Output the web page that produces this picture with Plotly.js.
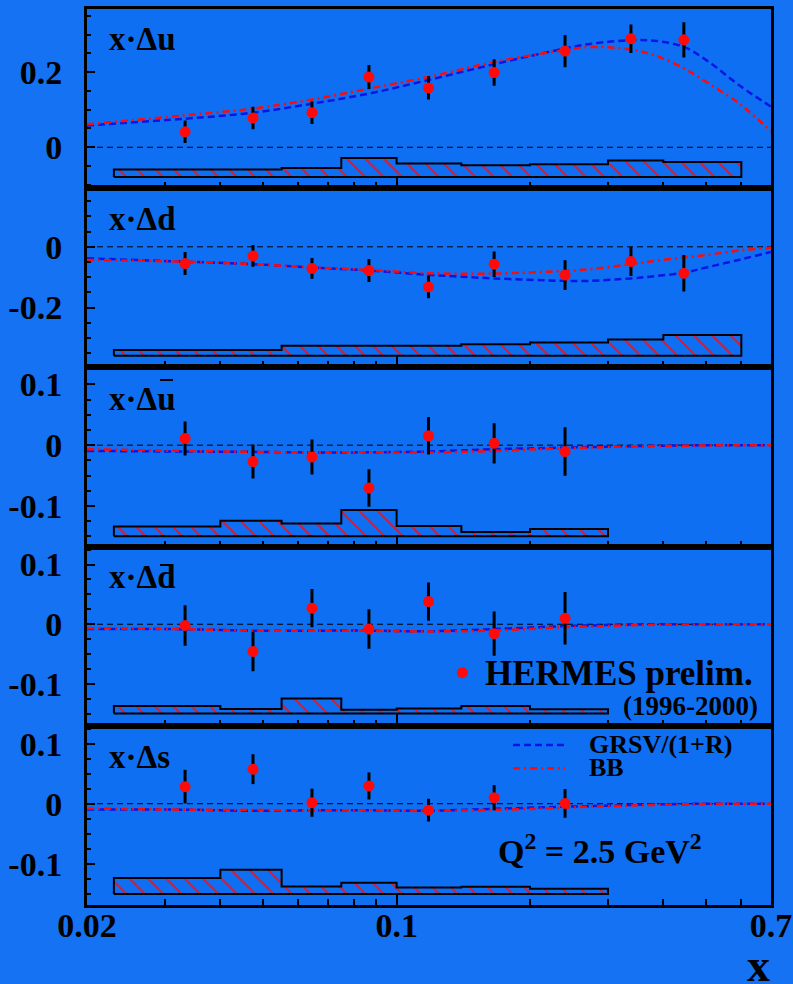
<!DOCTYPE html>
<html>
<head>
<meta charset="utf-8">
<script src="https://cdn.plot.ly/plotly-3.0.1.min.js"></script>
<style>
  html, body { margin: 0; padding: 0; background: #1572f2; }
  #plot { width: 793px; height: 984px; }
</style>
</head>
<body>
<div id="plot"></div>
<script>
// ---- HERMES x-bins (mean x of each bin) ----
const xPoints = [0.0333, 0.0474, 0.0644, 0.0866, 0.118, 0.166, 0.240, 0.338, 0.445];
// bin edges used for the systematic-error bands
const binEdges = [0.023, 0.04, 0.055, 0.075, 0.1, 0.14, 0.2, 0.3, 0.4, 0.6];
// x grid on which the parametrisations are tabulated
const xCurve = [0.02, 0.0333, 0.0474, 0.0644, 0.0866, 0.118, 0.166, 0.24, 0.273, 0.338, 0.386, 0.445, 0.5, 0.6, 0.7];

// ---- x·Δu ----
const uVal = [0.041, 0.078, 0.092, 0.187, 0.158, 0.199, 0.256, 0.289, 0.286];
const uErr = [0.030, 0.030, 0.030, 0.032, 0.031, 0.035, 0.043, 0.038, 0.047];
const uSysTop = [-0.0595, -0.0595, -0.055, -0.0285, -0.0435, -0.048, -0.045, -0.0355, -0.039];
const uSysBase = -0.079;
const uGRSV = [0.058, 0.076, 0.092, 0.116, 0.143, 0.179, 0.221, 0.263, 0.275, 0.285, 0.283, 0.267, 0.232, 0.161, 0.108];
const uBB = [0.061, 0.085, 0.103, 0.127, 0.156, 0.187, 0.227, 0.259, 0.267, 0.260, 0.243, 0.210, 0.174, 0.112, 0.042];

// ---- x·Δd ----
const dVal = [-0.055, -0.030, -0.071, -0.078, -0.132, -0.057, -0.093, -0.048, -0.087];
const dErr = [0.038, 0.036, 0.034, 0.038, 0.037, 0.042, 0.049, 0.048, 0.060];
const dSysTop = [-0.34, -0.34, -0.326, -0.326, -0.326, -0.321, -0.315, -0.305, -0.29];
const dSysBase = -0.359;
const dGRSV = [-0.038, -0.049, -0.057, -0.068, -0.078, -0.092, -0.104, -0.112, -0.112, -0.104, -0.096, -0.085, -0.068, -0.041, -0.017];
const dBB = [-0.043, -0.049, -0.057, -0.068, -0.076, -0.087, -0.088, -0.079, -0.074, -0.057, -0.046, -0.035, -0.027, -0.011, -0.003];

// ---- x·Δū ----
const ubVal = [0.011, -0.027, -0.0195, -0.0705, 0.0155, 0.003, -0.0105];
const ubErr = [0.028, 0.028, 0.029, 0.031, 0.031, 0.033, 0.040];
const ubSysTop = [-0.134, -0.1245, -0.129, -0.1067, -0.133, -0.143, -0.138];
const ubSysBase = -0.150;
const ubGRSV = [-0.0095, -0.0105, -0.011, -0.012, -0.0117, -0.0105, -0.0067, -0.004, -0.003, -0.0017, -0.001, -0.0005, -0.0003, 0, 0];
const ubBB = [-0.0067, -0.0095, -0.011, -0.012, -0.0117, -0.012, -0.0095, -0.005, -0.004, -0.002, -0.0015, -0.001, -0.0005, 0, 0];

// ---- x·Δd̄ ----
const dbVal = [-0.002, -0.0455, 0.027, -0.008, 0.038, -0.0157, 0.010];
const dbErr = [0.034, 0.033, 0.032, 0.033, 0.032, 0.037, 0.044];
const dbSysTop = [-0.137, -0.142, -0.1245, -0.143, -0.141, -0.137, -0.1425];
const dbSysBase = -0.1495;
const dbGRSV = [-0.0078, -0.0083, -0.0107, -0.0107, -0.0107, -0.0117, -0.008, -0.003, -0.002, -0.0005, 0, 0, 0, 0, 0];
const dbBB = [-0.0065, -0.0083, -0.0107, -0.0107, -0.011, -0.012, -0.0105, -0.005, -0.004, -0.0015, -0.001, -0.0005, 0, 0, 0];

// ---- x·Δs ----
const sVal = [0.0285, 0.0577, 0.0017, 0.0296, -0.0107, 0.010, 0.0005];
const sErr = [0.028, 0.025, 0.0235, 0.0225, 0.019, 0.021, 0.024];
const sSysTop = [-0.124, -0.110, -0.138, -0.132, -0.140, -0.1385, -0.142];
const sSysBase = -0.1508;
const sGRSV = [-0.0096, -0.010, -0.0118, -0.011, -0.011, -0.0118, -0.0085, -0.005, -0.004, -0.002, -0.001, -0.0005, 0, 0, 0];
const sBB = [-0.008, -0.010, -0.0105, -0.011, -0.011, -0.012, -0.0103, -0.0067, -0.005, -0.003, -0.002, -0.001, -0.0005, 0, 0];

// axis labelling
const xTickVals = [0.02, 0.1, 0.7];
const xTickText = ['0.02', '0.1', '0.7'];
const xMinorVals = [0.03, 0.04, 0.05, 0.06, 0.07, 0.08, 0.09, 0.2, 0.3, 0.4, 0.5, 0.6];

const panels = [
  {label: 'x·Δu', val: uVal, err: uErr, top: uSysTop, base: uSysBase, grsv: uGRSV, bb: uBB,
   range: [-0.109, 0.368], ticks: [0, 0.2], tickText: ['0', '0.2'], minor: 0.05},
  {label: 'x·Δd', val: dVal, err: dErr, top: dSysTop, base: dSysBase, grsv: dGRSV, bb: dBB,
   range: [-0.397, 0.193], ticks: [-0.2, 0], tickText: ['-0.2', '0'], minor: 0.05},
  {label: 'x·Δu', val: ubVal, err: ubErr, top: ubSysTop, base: ubSysBase, grsv: ubGRSV, bb: ubBB,
   range: [-0.167, 0.128], ticks: [-0.1, 0, 0.1], tickText: ['-0.1', '0', '0.1'], minor: 0.025},
  {label: 'x·Δd', val: dbVal, err: dbErr, top: dbSysTop, base: dbSysBase, grsv: dbGRSV, bb: dbBB,
   range: [-0.170, 0.130], ticks: [-0.1, 0, 0.1], tickText: ['-0.1', '0', '0.1'], minor: 0.025},
  {label: 'x·Δs', val: sVal, err: sErr, top: sSysTop, base: sSysBase, grsv: sGRSV, bb: sBB,
   range: [-0.169, 0.130], ticks: [-0.1, 0, 0.1], tickText: ['-0.1', '0', '0.1'], minor: 0.025}
];

// ---- page geometry (pixels) ----
const W = 793, H = 984;
const M = {l: 87, r: 22, t: 9, b: 79};
const plotW = W - M.l - M.r, plotH = H - M.t - M.b;
const pxX = p => (p - M.l) / plotW;
const pxY = p => (H - M.b - p) / plotH;

const FONT = 'Liberation Serif, Times New Roman, serif';
const BG = '#0f6ff2';
const BLUE = '#0a14e6';
const RED = '#ff0a0a';

// closed outline of a stepped band between base and tops
function bandOutline(edges, tops, base) {
  const xs = [edges[0]], ys = [base];
  for (let i = 0; i < tops.length; i++) {
    xs.push(edges[i], edges[i + 1]);
    ys.push(tops[i], tops[i]);
  }
  xs.push(edges[tops.length], edges[0]);
  ys.push(base, base);
  return {xs, ys};
}

const traces = [];
const layout = {
  width: W, height: H,
  margin: {l: M.l, r: M.r, t: M.t, b: M.b},
  paper_bgcolor: '#1572f2',
  plot_bgcolor: BG,
  showlegend: false,
  font: {family: FONT, color: 'black', weight: 'bold'},
  shapes: [],
  annotations: []
};

panels.forEach((p, i) => {
  const k = i + 1;
  const xa = k === 1 ? 'x' : 'x' + k;
  const ya = k === 1 ? 'y' : 'y' + k;
  const n = p.val.length;
  const band = bandOutline(binEdges.slice(0, p.top.length + 1), p.top, p.base);

  traces.push({
    x: band.xs, y: band.ys, xaxis: xa, yaxis: ya, type: 'scatter', mode: 'lines',
    fill: 'toself', fillcolor: BG,
    fillpattern: {shape: '\\', fgcolor: RED, bgcolor: BG, size: 13, solidity: 0.12},
    line: {color: 'black', width: 2}, hoverinfo: 'skip'
  });
  traces.push({
    x: xCurve, y: p.grsv, xaxis: xa, yaxis: ya, type: 'scatter', mode: 'lines',
    line: {color: BLUE, width: 2.5, dash: '7px,4px', shape: 'spline'}
  });
  traces.push({
    x: xCurve, y: p.bb, xaxis: xa, yaxis: ya, type: 'scatter', mode: 'lines',
    line: {color: RED, width: 2.5, dash: '7px,4px,2px,4px', shape: 'spline'}
  });
  traces.push({
    x: xPoints.slice(0, n), y: p.val, xaxis: xa, yaxis: ya, type: 'scatter', mode: 'markers',
    marker: {color: RED, size: 11},
    error_y: {type: 'data', array: p.err, visible: true, color: 'black', thickness: 3, width: 0}
  });

  const yDomTop = 1 - i / 5, yDomBot = 1 - (i + 1) / 5;
  layout[k === 1 ? 'xaxis' : 'xaxis' + k] = {
    type: 'log', range: [Math.log10(0.02), Math.log10(0.7)], anchor: ya,
    domain: [0, 1], showgrid: false, zeroline: false,
    showline: true, linecolor: 'black', linewidth: 3, mirror: true,
    ticks: 'inside', ticklen: 12, tickwidth: 2, tickcolor: 'black',
    tickmode: 'array', tickvals: xTickVals, ticktext: xTickText,
    showticklabels: k === 5, ticklabelstandoff: -12,
    tickfont: {family: FONT, size: 34, weight: 'bold', color: 'black'},
    minor: {tickmode: 'array', tickvals: xMinorVals, ticks: 'inside', ticklen: 6, tickwidth: 2, tickcolor: 'black'}
  };
  layout[k === 1 ? 'yaxis' : 'yaxis' + k] = {
    range: p.range, anchor: xa, domain: [yDomBot, yDomTop],
    showgrid: false, zeroline: false,
    showline: true, linecolor: 'black', linewidth: 3, mirror: true,
    ticks: 'inside', ticklen: 8, tickwidth: 2, tickcolor: 'black',
    tickmode: 'array', tickvals: p.ticks, ticktext: p.tickText,
    ticklabelstandoff: 15,
    tickfont: {family: FONT, size: 34, weight: 'bold', color: 'black'},
    minor: {tickmode: 'linear', tick0: 0, dtick: p.minor, ticks: 'inside', ticklen: 4, tickwidth: 2, tickcolor: 'black'}
  };

  // dashed zero reference line
  layout.shapes.push({
    type: 'line', xref: xa + ' domain', yref: ya, x0: 0, x1: 1, y0: 0, y1: 0,
    line: {color: 'black', width: 1, dash: '6px,4px'}, layer: 'below'
  });
});

// panel titles
const titleBaselines = [50.7, 230, 410, 588.3, 768.3];
panels.forEach((p, i) => {
  const size = 33;
  layout.annotations.push({
    xref: 'paper', yref: 'paper', x: pxX(107), y: pxY(titleBaselines[i] - 0.34 * size),
    xanchor: 'left', yanchor: 'middle', showarrow: false, text: p.label,
    font: {family: FONT, size: size, weight: 'bold', color: 'black'}
  });
});
// bars over the antiquark symbols
[[380, 160, 173], [565, 160, 173]].forEach(([y, xa, xb]) => {
  layout.shapes.push({type: 'line', xref: 'paper', yref: 'paper',
    x0: pxX(xa), x1: pxX(xb), y0: pxY(y), y1: pxY(y), line: {color: 'black', width: 2}});
});

// legend: data
layout.shapes.push({type: 'circle', xref: 'paper', yref: 'paper', xsizemode: 'pixel', ysizemode: 'pixel',
  xanchor: pxX(462.3), yanchor: pxY(672.7), x0: -5.5, x1: 5.5, y0: -5.5, y1: 5.5,
  fillcolor: RED, line: {width: 0}});
function textAt(txt, xpx, base, size, anchor) {
  layout.annotations.push({xref: 'paper', yref: 'paper', x: pxX(xpx), y: pxY(base - 0.34 * size),
    xanchor: anchor, yanchor: 'middle', showarrow: false, text: txt,
    font: {family: FONT, size: size, weight: 'bold', color: 'black'}});
}
textAt('HERMES prelim.', 483, 685, 35, 'left');
textAt('(1996-2000)', 760, 715, 27, 'right');

// legend: parametrisations
layout.shapes.push({type: 'line', xref: 'paper', yref: 'paper', x0: pxX(513), x1: pxX(565),
  y0: pxY(745), y1: pxY(745), line: {color: BLUE, width: 2.5, dash: '7px,4px'}});
layout.shapes.push({type: 'line', xref: 'paper', yref: 'paper', x0: pxX(513), x1: pxX(565),
  y0: pxY(768.3), y1: pxY(768.3), line: {color: RED, width: 2.5, dash: '7px,4px,2px,4px'}});
textAt('GRSV/(1+R)', 587, 753.3, 26, 'left');
textAt('BB', 587, 776.7, 26, 'left');

textAt('Q<sup>2</sup> = 2.5 GeV<sup>2</sup>', 496, 861, 34, 'left');

// axis title
textAt('x', 758, 981, 46, 'center');

Plotly.newPlot('plot', traces, layout, {displayModeBar: false, staticPlot: true});
</script>
</body>
</html>
